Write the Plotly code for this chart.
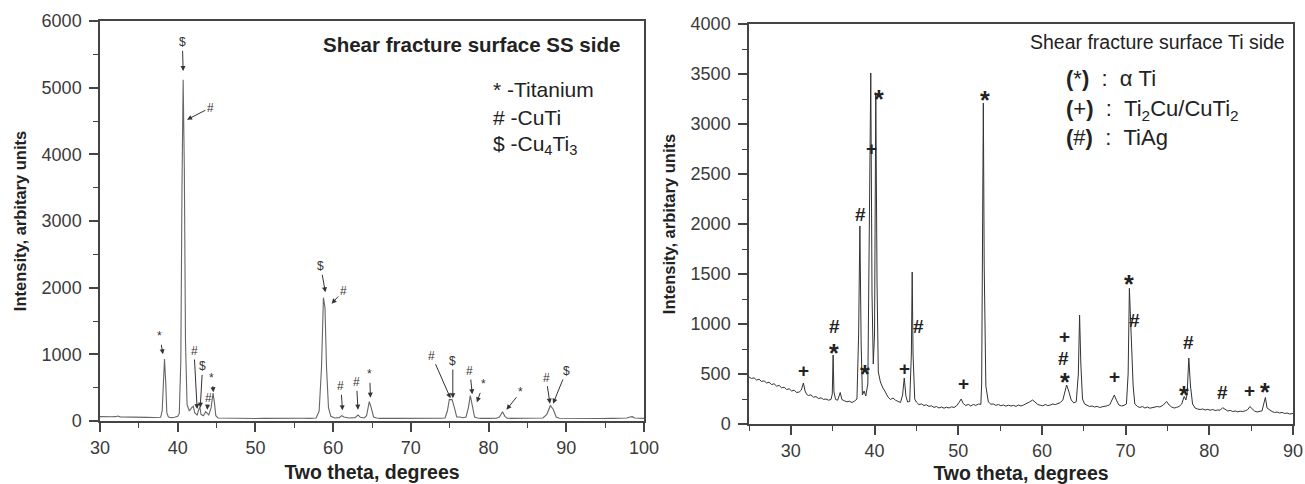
import plotly.graph_objects as go

W, H = 1305, 484

# ---------------- Left panel: SS side ----------------
ss_theta = [30.0, 30.5, 31.0, 31.5, 32.0, 32.3, 32.6, 33.0, 34.0, 35.0, 36.0, 37.0, 37.8,
            38.0, 38.15, 38.3, 38.45, 38.6, 38.8, 39.2, 39.6, 40.0, 40.2, 40.4, 40.55, 40.7,
            40.85, 41.0, 41.2, 41.5, 41.8, 42.0, 42.2, 42.5, 42.7, 42.85, 43.0, 43.3, 43.6,
            43.8, 44.0, 44.3, 44.55, 44.75, 44.9, 45.2, 46.0, 47.0, 48.0, 49.0, 50.0, 51.0,
            52.0, 53.0, 54.0, 55.0, 56.0, 57.0, 57.8, 58.2, 58.5, 58.75, 58.95, 59.15, 59.4,
            59.7, 60.2, 60.8, 61.1, 61.4, 62.0, 62.8, 63.2, 63.5, 64.0, 64.3, 64.65, 64.9,
            65.2, 65.6, 66.0, 68.0, 70.0, 72.0, 74.0, 74.4, 74.7, 74.95, 75.3, 75.6, 75.9,
            76.3, 76.7, 77.1, 77.4, 77.65, 77.9, 78.2, 78.6, 79.0, 80.0, 81.0, 81.4, 81.8,
            82.1, 82.4, 83.0, 84.0, 85.0, 86.0, 87.0, 87.5, 87.95, 88.3, 88.7, 89.1, 90.0,
            92.0, 94.0, 96.0, 97.8, 98.2, 98.5, 98.8, 99.5, 100.0]
ss_intensity = [65, 62, 60, 63, 65, 75, 62, 60, 58, 55, 55, 52, 55,
                150, 650, 930, 600, 120, 60, 50, 55, 70, 110, 900, 3500, 5120,
                3800, 1200, 250, 150, 200, 220, 120, 90, 170, 210, 100, 80, 140,
                120, 90, 200, 420, 250, 80, 45, 42, 40, 45, 40, 38, 40,
                42, 40, 38, 40, 42, 40, 45, 150, 800, 1850, 1700, 800, 200,
                70, 45, 50, 80, 60, 45, 50, 90, 55, 45, 80, 290, 200,
                60, 45, 40, 40, 38, 40, 42, 45, 150, 320, 320, 200, 60,
                60, 50, 60, 200, 380, 250, 60, 45, 40, 40, 42, 60, 140,
                70, 42, 40, 40, 40, 42, 45, 100, 230, 180, 60, 42, 40,
                40, 38, 40, 45, 60, 65, 45, 40, 40]

ss_marks = ["*", "$", "#", "#", "$", "#", "*",
            "$", "#", "#", "#", "*", "#", "$", "#", "*", "*", "#", "$"]
ss_label_x = [37.7, 40.6, 44.2, 42.1, 43.2, 43.9, 44.4,
              58.4, 61.3, 61.0, 63.0, 64.7, 72.7, 75.4, 77.6, 79.3, 84.1, 87.4, 90.0]
ss_label_y = [1270, 5680, 4700, 1050, 820, 350, 650,
              2320, 1950, 520, 580, 700, 980, 900, 750, 550, 430, 650, 750]
ss_head_x = [38.1, 40.7, 41.2, 42.5, 42.9, 43.8, 44.6,
             59.0, 59.8, 61.2, 63.2, 64.8, 75.1, 75.4, 77.9, 78.5, 82.3, 87.9, 88.3]
ss_head_y = [1000, 5250, 4520, 180, 200, 170, 430,
             1930, 1760, 160, 170, 350, 340, 340, 400, 280, 170, 260, 260]

ss_legend = ["* -Titanium", "# -CuTi", "$ -Cu<sub>4</sub>Ti<sub>3</sub>"]

# ---------------- Right panel: Ti side ----------------
ti_theta = [25.0, 25.3, 25.6, 25.9, 26.2, 26.5, 26.8, 27.1, 27.4, 27.7, 28.0, 28.3, 28.6,
            28.9, 29.2, 29.5, 29.8, 30.1, 30.4, 30.7, 31.0, 31.25, 31.5, 31.7, 31.9, 32.1,
            32.4, 32.7, 33.0, 33.3, 33.6, 33.9, 34.2, 34.5, 34.8, 34.95, 35.05, 35.15, 35.35,
            35.6, 35.9, 36.1, 36.4, 36.7, 37.0, 37.3, 37.6, 37.9, 38.1, 38.25, 38.4, 38.55,
            38.75, 38.95, 39.2, 39.4, 39.55, 39.7, 39.85, 40.0, 40.15, 40.3, 40.45, 40.7,
            41.0, 41.3, 41.6, 41.9, 42.2, 42.5, 42.8, 43.1, 43.35, 43.55, 43.75, 43.95, 44.2,
            44.4, 44.5, 44.6, 44.8, 45.0, 45.3, 45.6, 45.9, 46.2, 46.5, 46.8, 47.1, 47.4,
            47.7, 48.0, 48.3, 48.6, 48.9, 49.2, 49.5, 49.8, 50.1, 50.35, 50.6, 50.9, 51.2,
            51.5, 51.8, 52.1, 52.4, 52.7, 52.8, 52.9, 53.0, 53.1, 53.3, 53.6, 53.9, 54.2,
            54.5, 54.8, 55.1, 55.4, 55.7, 56.0, 56.3, 56.6, 56.9, 57.2, 57.5, 57.8, 58.1,
            58.5, 58.9, 59.2, 59.5, 59.8, 60.1, 60.4, 60.7, 61.0, 61.3, 61.6, 61.9, 62.2,
            62.5, 62.75, 62.95, 63.2, 63.5, 63.8, 64.1, 64.35, 64.5, 64.65, 64.85, 65.1, 65.4,
            65.7, 66.0, 66.3, 66.6, 66.9, 67.2, 67.5, 67.8, 68.1, 68.4, 68.65, 68.9, 69.2,
            69.5, 69.8, 70.1, 70.3, 70.45, 70.6, 70.75, 70.9, 71.1, 71.4, 71.7, 72.0, 72.3,
            72.6, 72.9, 73.2, 73.5, 73.8, 74.1, 74.5, 74.9, 75.2, 75.5, 75.8, 76.1, 76.4,
            76.7, 77.0, 77.2, 77.35, 77.55, 77.75, 78.0, 78.3, 78.6, 78.9, 79.2, 79.5, 79.8,
            80.1, 80.4, 80.7, 81.0, 81.3, 81.6, 81.9, 82.2, 82.5, 82.8, 83.1, 83.4, 83.7,
            84.0, 84.3, 84.6, 84.85, 85.1, 85.4, 85.7, 86.0, 86.3, 86.5, 86.7, 86.9, 87.2,
            87.5, 87.8, 88.1, 88.4, 88.7, 89.0, 89.3, 89.6, 90.0]
ti_intensity = [470, 455, 462, 440, 448, 425, 432, 410, 418, 395, 402, 378, 386,
                362, 368, 345, 352, 330, 338, 315, 320, 340, 410, 330, 295, 285,
                292, 268, 274, 255, 262, 246, 250, 238, 245, 300, 690, 320, 245,
                238, 315, 245, 232, 222, 228, 215, 228, 250, 900, 1980, 800, 290,
                330, 280, 400, 2000, 3510, 1300, 600, 900, 3300, 1400, 520, 420,
                360, 320, 270, 245, 260, 238, 225, 215, 290, 460, 280, 220, 225,
                700, 1520, 700, 250, 220, 195, 200, 185, 192, 176, 182, 166, 175,
                160, 170, 158, 168, 160, 172, 165, 182, 215, 250, 205, 185, 196,
                180, 195, 186, 200, 196, 400, 1700, 3210, 1600, 380, 220, 198, 200,
                186, 196, 182, 190, 178, 188, 180, 186, 176, 190, 180, 190, 200,
                220, 240, 212, 195, 188, 182, 195, 184, 190, 200, 194, 205, 214,
                240, 330, 390, 330, 240, 212, 222, 500, 1090, 600, 250, 200, 190,
                175, 180, 170, 176, 165, 172, 176, 182, 192, 240, 290, 238, 190,
                180, 186, 200, 500, 1357, 1000, 810, 380, 200, 176, 165, 175, 160,
                170, 158, 166, 170, 175, 170, 190, 225, 190, 170, 160, 166, 176,
                200, 275, 240, 300, 660, 380, 200, 160, 150, 145, 150, 140, 146,
                138, 145, 135, 140, 138, 163, 150, 130, 136, 125, 130, 122, 128,
                125, 132, 145, 175, 155, 130, 120, 126, 132, 200, 265, 160, 140,
                125, 115, 120, 110, 116, 105, 110, 100, 105]

ti_marks = ["+", "#", "*", "#", "*", "+", "*", "+", "#", "+", "*",
            "+", "#", "*", "+", "*", "#", "*", "#", "#", "+", "*"]
ti_mark_x = [31.55, 35.2, 35.2, 38.3, 38.8, 39.6, 40.5, 43.6, 45.2, 50.6, 53.2,
             62.7, 62.6, 62.7, 68.7, 70.4, 71.1, 77.0, 77.5, 81.6, 84.8, 86.6]
ti_mark_y = [540, 973, 780, 2100, 570, 2757, 3317, 557, 973, 410, 3310,
             873, 657, 490, 480, 1467, 1040, 357, 813, 313, 340, 390]

NB = "\u00a0"
ti_legend = ["<b>(</b>*<b>)</b>" + NB * 2 + ":" + NB * 2 + "α Ti",
             "<b>(</b>+<b>)</b>" + NB * 2 + ":" + NB * 2 + "Ti<sub>2</sub>Cu/CuTi<sub>2</sub>",
             "<b>(</b>#<b>)</b>" + NB * 2 + ":" + NB * 2 + "TiAg"]

FONT = "Liberation Sans, Arial, sans-serif"

fig = go.Figure()
fig.add_trace(go.Scatter(x=ss_theta, y=ss_intensity, mode="lines",
                         line=dict(color="#666666", width=1.1), xaxis="x", yaxis="y",
                         showlegend=False, hoverinfo="skip"))
fig.add_trace(go.Scatter(x=ti_theta, y=ti_intensity, mode="lines",
                         line=dict(color="#333333", width=1.0), xaxis="x2", yaxis="y2",
                         showlegend=False, hoverinfo="skip"))

def px2x(px):
    return px / W

def py2y(py):
    return 1 - py / H

axis_common = dict(showgrid=False, zeroline=False, showline=True, mirror=True,
                   linecolor="#444444", linewidth=1.5, ticks="outside", ticklen=9,
                   tickwidth=1.5, tickcolor="#444444",
                   tickfont=dict(family=FONT, size=18, color="#3a3a3a"),
                   automargin=False)
minor_common = dict(ticklen=5, ticks="outside", tickcolor="#444444", tickwidth=1.2)
xtitle_font = dict(family=FONT, size=19.5, color="#222222")
ytitle_font = dict(family=FONT, size=16.5, color="#222222")

fig.update_layout(
    width=W, height=H,
    margin=dict(l=0, r=0, t=0, b=0),
    paper_bgcolor="white", plot_bgcolor="white",
    font=dict(family=FONT, color="#222222"),
    xaxis=dict(domain=[px2x(100), px2x(644)], range=[30, 100], dtick=10, tick0=0,
               minor=dict(dtick=5, **minor_common), ticklabelstandoff=1,
               title=dict(text="<b>Two theta, degrees</b>", standoff=8, font=xtitle_font),
               anchor="y", **axis_common),
    yaxis=dict(domain=[py2y(421), py2y(21)], range=[0, 6000], dtick=1000, tick0=0,
               minor=dict(dtick=500, **minor_common), ticklabelstandoff=4,
               title=dict(text="<b>Intensity, arbitary units</b>", standoff=11, font=ytitle_font),
               anchor="x", **axis_common),
    xaxis2=dict(domain=[px2x(749), px2x(1293)], range=[25, 90], dtick=10, tick0=0,
                minor=dict(dtick=5, **minor_common), ticklabelstandoff=1,
                title=dict(text="<b>Two theta, degrees</b>", standoff=8, font=xtitle_font),
                anchor="y2", **axis_common),
    yaxis2=dict(domain=[py2y(424), py2y(24)], range=[0, 4000], dtick=500, tick0=0,
                minor=dict(dtick=250, **minor_common), ticklabelstandoff=4,
                title=dict(text="<b>Intensity, arbitary units</b>", standoff=11, font=ytitle_font),
                anchor="x2", **axis_common),
)

annotations = []
# left panel arrows with symbols
for m, lx, ly, hx, hy in zip(ss_marks, ss_label_x, ss_label_y, ss_head_x, ss_head_y):
    annotations.append(dict(x=hx, y=hy, ax=lx, ay=ly, xref="x", yref="y", axref="x", ayref="y",
                            text=m, showarrow=True, arrowhead=2, arrowsize=1, arrowwidth=1,
                            arrowcolor="#333333", standoff=0, startstandoff=0,
                            font=dict(family=FONT, size=12, color="#333333")))
# left panel title and legend
annotations.append(dict(x=px2x(622), y=py2y(45), xref="paper", yref="paper", xanchor="right",
                        yanchor="middle", showarrow=False,
                        text="<b>Shear fracture surface SS side</b>",
                        font=dict(family=FONT, size=20.5, color="#222222")))
for i, t in enumerate(ss_legend):
    annotations.append(dict(x=px2x(491), y=py2y([90, 117, 145][i]), xref="paper", yref="paper",
                            xanchor="left", yanchor="middle", showarrow=False, text=t,
                            font=dict(family=FONT, size=21, color="#222222")))

# right panel symbols
for m, x, y in zip(ti_marks, ti_mark_x, ti_mark_y):
    size = 25 if m == "*" else 19
    ysh = -7 if m == "*" else 0
    annotations.append(dict(x=x, y=y, xref="x2", yref="y2", text="<b>%s</b>" % m,
                            showarrow=False, xanchor="center", yanchor="middle", yshift=ysh,
                            font=dict(family=FONT, size=size, color="#222222")))
annotations.append(dict(x=px2x(1287), y=py2y(42), xref="paper", yref="paper", xanchor="right",
                        yanchor="middle", showarrow=False,
                        text="Shear fracture surface Ti side",
                        font=dict(family=FONT, size=19.5, color="#222222")))
for i, t in enumerate(ti_legend):
    annotations.append(dict(x=px2x(1064), y=py2y([78, 110, 137][i]), xref="paper", yref="paper",
                            xanchor="left", yanchor="middle", showarrow=False, text=t,
                            font=dict(family=FONT, size=22, color="#222222")))

fig.update_layout(annotations=annotations)
fig.write_html("out.html", config={"displayModeBar": False},
               post_script="document.body.style.margin='0px';"
                           "document.body.style.overflow='hidden';")
